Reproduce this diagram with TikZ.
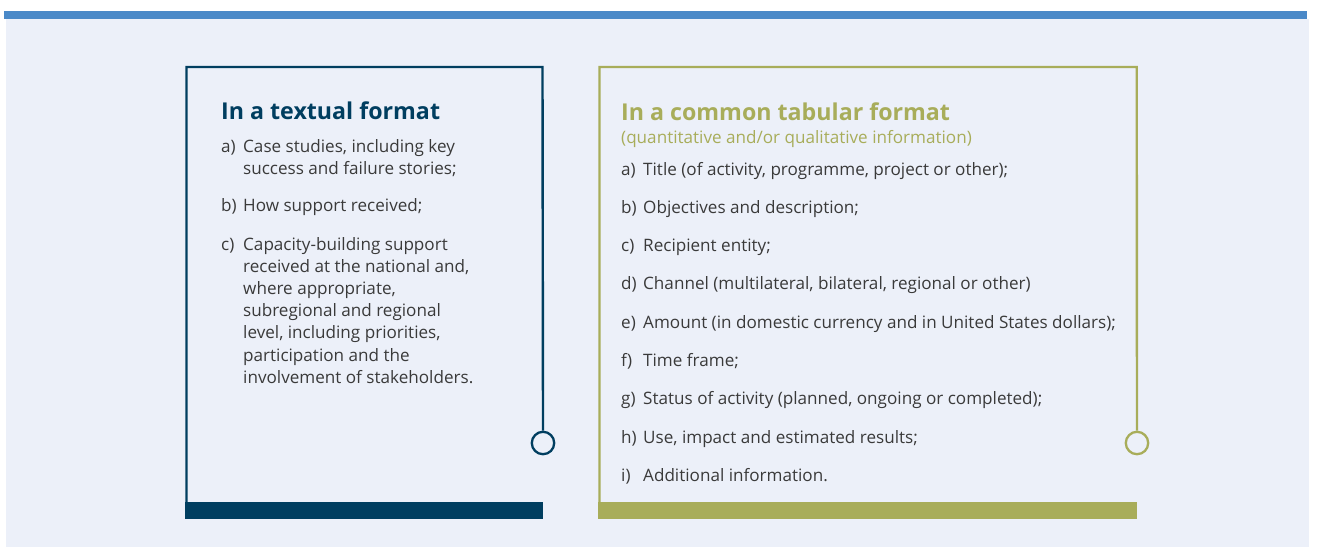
\documentclass[tikz,border=0pt]{standalone}
\usepackage{fontspec}
\setmainfont{Open Sans}
\usetikzlibrary{positioning}
\definecolor{navy}{RGB}{0,62,96}
\definecolor{olive}{RGB}{168,173,90}
\definecolor{barblue}{RGB}{74,137,200}
\definecolor{paper}{RGB}{236,240,249}
\definecolor{ink}{RGB}{58,58,58}
\newcommand\itemlines[1]{\begin{tabular}[t]{@{}l@{}}#1\end{tabular}}
\tikzset{
  item/.style={anchor=base west, inner sep=0pt, text=ink,
    font=\fontsize{17.1}{22.2}\selectfont},
  head/.style={anchor=base west, inner sep=0pt, font=\fontsize{23.2}{28}\selectfont\bfseries},
  knob/.style={circle, draw, fill=paper, line width=2.3pt, minimum size=22.4pt, inner sep=0pt},
  frame/.style={line width=2.4pt},
}

\begin{document}
\begin{tikzpicture}[x=1pt,y=-1pt]

  \newcommand\Gap{22pt};
  \newcommand\Row{38.3};

  \useasboundingbox (0,0) rectangle (1318,547);
  \fill[paper] (6,19) rectangle (1309,547);
  \fill[barblue] (4,11) rectangle (1307,19);

  % left panel
  \node[knob, draw=navy] (lknob) at (543,443) {};
  \draw[frame, navy] (lknob.north) -- (542.5,67) -- (186.5,67) -- (186.5,502);
  \fill[navy] (185,502) rectangle (543,519);

  \node[head, text=navy] (lhead) at (221,119) {In a textual format};

  \node[item] (la) at (221,152) {a)};
  \node[item] (lta) at ([xshift=\Gap]la.base west) {\itemlines{Case studies, including key\\success and failure stories;}};
  \node[item] (lb) at (221,211.7) {b)};
  \node[item] (ltb) at ([xshift=\Gap]lb.base west) {How support received;};
  \node[item] (lc) at (221,250) {c)};
  \node[item] (ltc) at ([xshift=\Gap]lc.base west) {\itemlines{Capacity-building support\\received at the national and,\\where appropriate,\\subregional and regional\\level, including priorities,\\participation and the\\involvement of stakeholders.}};

  % right panel
  \node[knob, draw=olive] (rknob) at (1137,443) {};
  \draw[frame, olive] (rknob.north) -- (1136.7,67) -- (599.5,67) -- (599.5,502);
  \fill[olive] (598,502) rectangle (1136.5,519);

  \node[head, text=olive] (rhead) at (621,120) {In a common tabular format};
  \node[item, text=olive] (rsub) at (621,143) {(quantitative and/or qualitative information)};

  \foreach \l/\t [count=\i from 0] in {
      a/{Title (of activity, programme, project or other);},
      b/{Objectives and description;},
      c/{Recipient entity;},
      d/{Channel (multilateral, bilateral, regional or other)},
      e/{Amount (in domestic currency and in United States dollars);},
      f/{Time frame;},
      g/{Status of activity (planned, ongoing or completed);},
      h/{Use, impact and estimated results;},
      i/{Additional information.}}{
    \node[item] (r\l) at (621,{175+\Row*\i}) {\l)};
    \node[item] (rt\l) at ([xshift=\Gap]r\l.base west) {\t};
  }

\end{tikzpicture}
\end{document}
